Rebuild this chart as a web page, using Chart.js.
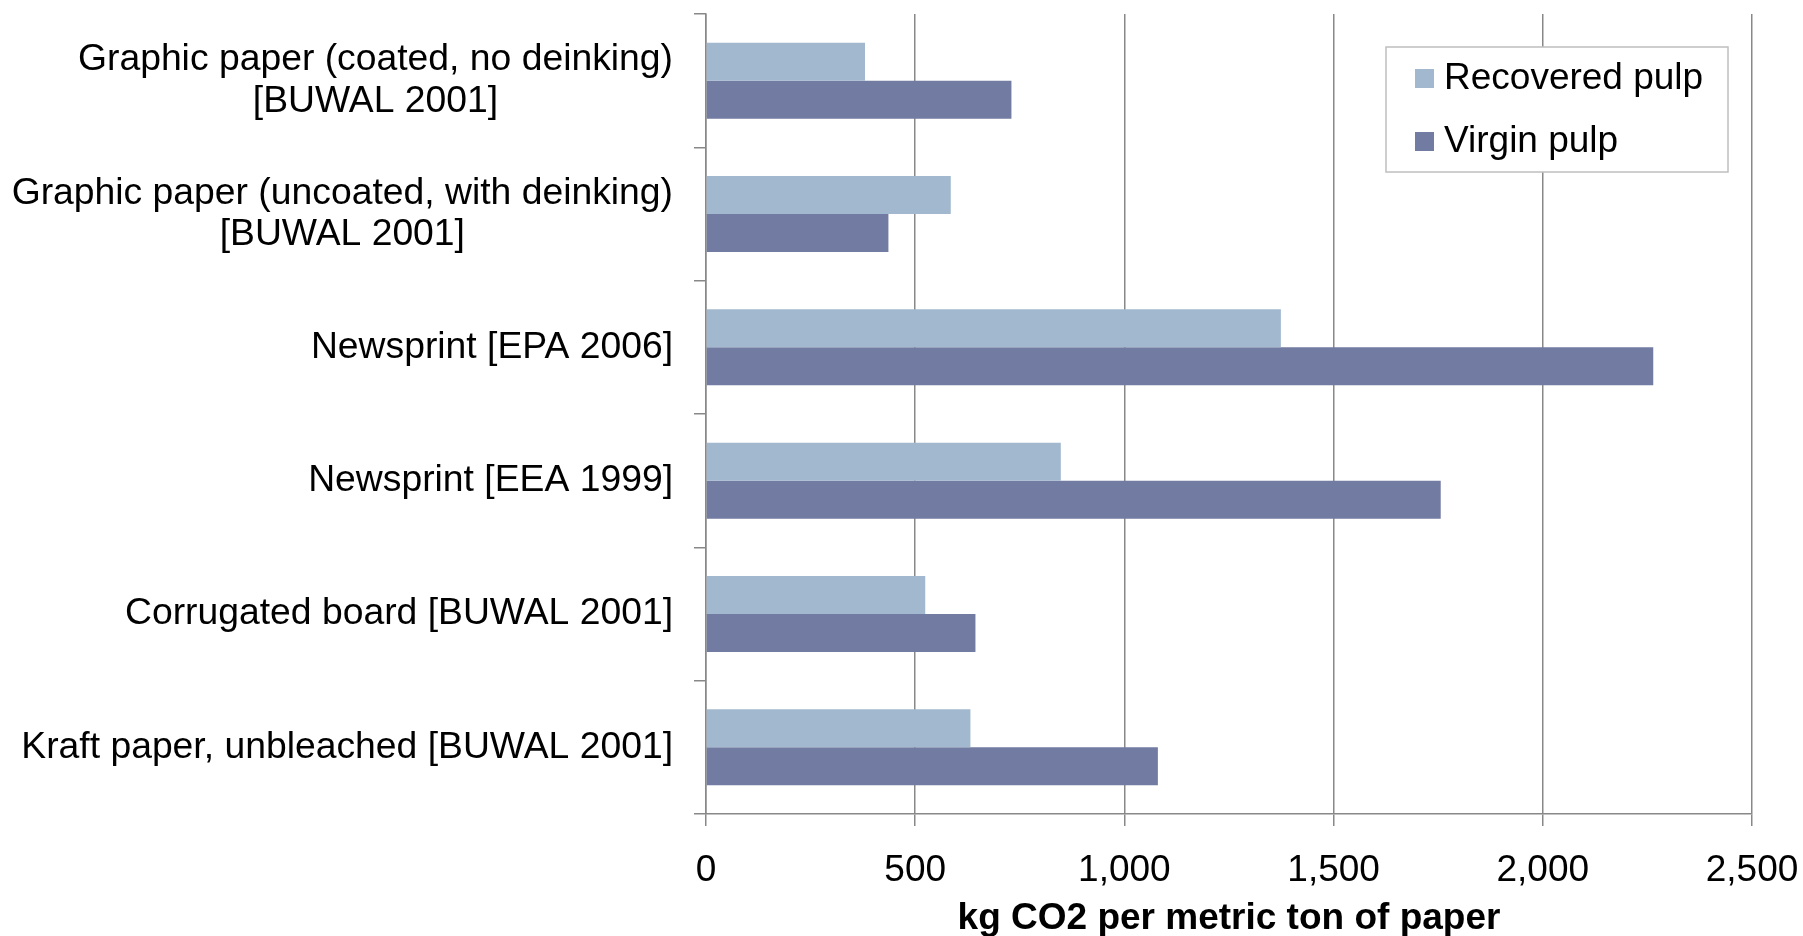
<!DOCTYPE html>
<html>
<head>
<meta charset="utf-8">
<script src="https://cdn.jsdelivr.net/npm/chart.js@4.4.1/dist/chart.umd.min.js"></script>
<style>
html, body { margin: 0; padding: 0; background: #fff; }
</style>
</head>
<body>
<canvas id="myChart" width="1803" height="936"></canvas>
<script>
// data
const categories = [
  ["Graphic paper (coated, no deinking)", "[BUWAL 2001]"],
  ["Graphic paper (uncoated, with deinking)", "[BUWAL 2001]"],
  "Newsprint [EPA 2006]",
  "Newsprint [EEA 1999]",
  "Corrugated board [BUWAL 2001]",
  "Kraft paper, unbleached [BUWAL 2001]"
]
const recoveredPulp = [380, 585, 1374, 848, 524, 632]
const virginPulp = [730, 436, 2264, 1756, 644, 1080]
const xTicks = [0, 500, 1000, 1500, 2000, 2500]

const fontFamily = '"Liberation Sans", Arial, sans-serif'
const gridGray = "#888888"
const labelSize = 37.3

// legend box drawn inside the plot, top right
const boxLegend = {
  id: "boxLegend",
  afterDatasetsDraw(chart) {
    const ctx = chart.ctx
    const area = chart.chartArea
    const w = 342, h = 125
    const left = area.right - 24 - w
    const top = area.top + 33
    ctx.save()
    ctx.fillStyle = "#fff"
    ctx.fillRect(left, top, w, h)
    ctx.strokeStyle = "#BFBFBF"
    ctx.lineWidth = 1.5
    ctx.strokeRect(left, top, w, h)
    ctx.font = "37px " + fontFamily
    ctx.textBaseline = "alphabetic"
    chart.data.datasets.forEach((ds, i) => {
      const base = top + 42 + i * 63
      ctx.fillStyle = ds.backgroundColor
      ctx.fillRect(left + 29, base - 20, 19, 19)
      ctx.fillStyle = "#000"
      ctx.fillText(ds.label, left + 58, base)
    })
    ctx.restore()
  }
}

// category labels: block right aligned, lines centred inside the block
const centeredLabels = {
  id: "centeredLabels",
  afterDraw(chart) {
    const y = chart.scales.y
    const ctx = chart.ctx
    const right = y.right - 12 - 21
    const lh = labelSize * 1.11
    ctx.save()
    ctx.font = labelSize + "px " + fontFamily
    ctx.fillStyle = "#000"
    ctx.textAlign = "center"
    ctx.textBaseline = "middle"
    chart.data.labels.forEach((lab, i) => {
      const lines = Array.isArray(lab) ? lab : [lab]
      const w = Math.max(...lines.map(l => ctx.measureText(l).width))
      const cx = right - w / 2
      const cy = y.getPixelForValue(i)
      lines.forEach((l, j) => ctx.fillText(l, cx, cy + (j - (lines.length - 1) / 2) * lh))
    })
    ctx.restore()
  }
}

const data = {
  labels: categories,
  datasets: [
    {
      label: "Recovered pulp",
      data: recoveredPulp,
      backgroundColor: "#A2B8CF",
      categoryPercentage: 0.57,
      barPercentage: 1.0
    },
    {
      label: "Virgin pulp",
      data: virginPulp,
      backgroundColor: "#727BA1",
      categoryPercentage: 0.57,
      barPercentage: 1.0
    }
  ]
}

const config = {
  type: "bar",
  data: data,
  options: {
    indexAxis: "y",
    responsive: false,
    animation: false,
    layout: { padding: { top: 14, right: 51, bottom: 0, left: 0 } },
    plugins: {
      legend: { display: false },
      tooltip: { enabled: false }
    },
    scales: {
      x: {
        min: 0,
        max: 2500,
        afterBuildTicks: axis => { axis.ticks = xTicks.map(v => ({ value: v })) },
        afterFit: axis => {
          axis.height = 122
          axis.paddingLeft = 0
          axis.paddingRight = 0
        },
        ticks: {
          color: "#000",
          padding: 23,
          font: { family: fontFamily, size: 37 },
          callback: v => Number(v).toLocaleString("en-US")
        },
        grid: { color: gridGray, lineWidth: 1.5, tickLength: 12 },
        border: { color: gridGray, width: 1.5 },
        title: {
          display: true,
          text: "kg CO2 per metric ton of paper",
          color: "#000",
          font: { family: fontFamily, size: 37, weight: "bold", lineHeight: 0.95 },
          padding: { top: 2, bottom: 0 }
        }
      },
      y: {
        afterFit: axis => {
          axis.width = 706
          axis.paddingTop = 0
          axis.paddingBottom = 0
        },
        ticks: {
          color: "rgba(0,0,0,0)",
          padding: 21,
          font: { family: fontFamily, size: labelSize, lineHeight: 1.11 }
        },
        grid: { drawOnChartArea: false, color: gridGray, lineWidth: 1.5, tickLength: 12, offset: true },
        border: { color: gridGray, width: 1.5 }
      }
    }
  },
  plugins: [boxLegend, centeredLabels]
}

new Chart(document.getElementById("myChart"), config)
</script>
</body>
</html>
